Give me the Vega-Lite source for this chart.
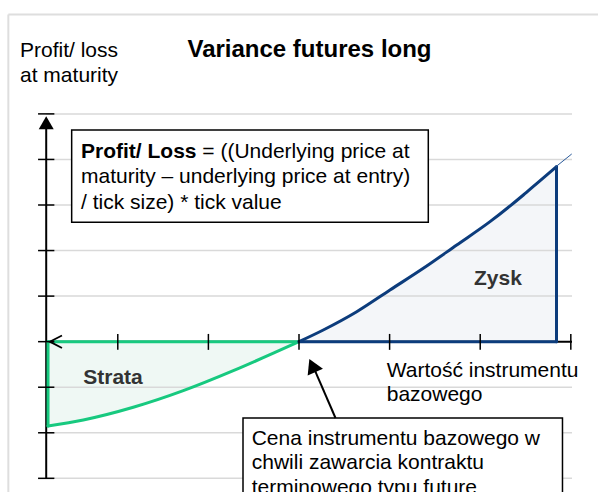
{
  "$schema": "https://vega.github.io/schema/vega-lite/v6.json",
  "width": 598,
  "height": 492,
  "padding": 0,
  "autosize": {"type": "none"},
  "background": "white",
  "config": {"view": {"stroke": null}, "text": {"font": "Liberation Sans"}},
  "datasets": {
    "border": [
      {"u": -3.208, "v": 7.18, "u2": 3.4, "v2": 7.18},
      {"u": -3.208, "v": 7.18, "u2": -3.208, "v2": -3.4}
    ],
    "grid": [
      {"u": -2.79, "u2": 3.013, "v": 5, "v2": 5},
      {"u": -2.79, "u2": 3.013, "v": 4, "v2": 4},
      {"u": -2.79, "u2": 3.013, "v": 3, "v2": 3},
      {"u": -2.79, "u2": 3.013, "v": 2, "v2": 2},
      {"u": -2.79, "u2": 3.013, "v": 1, "v2": 1},
      {"u": -2.79, "u2": 3.013, "v": -1, "v2": -1},
      {"u": -2.79, "u2": 3.013, "v": -2, "v2": -2},
      {"u": -2.79, "u2": 3.013, "v": -3, "v2": -3}
    ],
    "axes": [
      {"u": -2.79, "v": -3, "u2": -2.79, "v2": 4.85},
      {"u": -2.79, "v": 0, "u2": 3.013, "v2": 0}
    ],
    "ticks": [
      {"u": -2.88, "u2": -2.7, "v": 5, "v2": 5},
      {"u": -2.88, "u2": -2.7, "v": 4, "v2": 4},
      {"u": -2.88, "u2": -2.7, "v": 3, "v2": 3},
      {"u": -2.88, "u2": -2.7, "v": 2, "v2": 2},
      {"u": -2.88, "u2": -2.7, "v": 1, "v2": 1},
      {"u": -2.88, "u2": -2.7, "v": 0, "v2": 0},
      {"u": -2.88, "u2": -2.7, "v": -1, "v2": -1},
      {"u": -2.88, "u2": -2.7, "v": -2, "v2": -2},
      {"u": -2.88, "u2": -2.7, "v": -3, "v2": -3},
      {"u": -2, "u2": -2, "v": 0.17, "v2": -0.18},
      {"u": -1, "u2": -1, "v": 0.17, "v2": -0.18},
      {"u": 0, "u2": 0, "v": 0.17, "v2": -0.18},
      {"u": 1, "u2": 1, "v": 0.17, "v2": -0.18},
      {"u": 2, "u2": 2, "v": 0.17, "v2": -0.18},
      {"u": 3, "u2": 3, "v": 0.17, "v2": -0.18}
    ],
    "chevron": [
      {"o": 0, "u": -2.616, "v": 0.135},
      {"o": 1, "u": -2.75, "v": 0},
      {"o": 2, "u": -2.616, "v": -0.14}
    ],
    "lossCurve": [
      {"u": -2.77, "v": -1.851},
      {"u": -2.381, "v": -1.72},
      {"u": -1.829, "v": -1.441},
      {"u": -1.277, "v": -1.076},
      {"u": -0.725, "v": -0.637},
      {"u": -0.246, "v": -0.22},
      {"u": 0, "v": 0}
    ],
    "lossEdges": [
      {"u": 0, "v": 0, "u2": -2.77, "v2": 0},
      {"u": -2.77, "v": 0, "u2": -2.77, "v2": -1.851}
    ],
    "profitCurve": [
      {"u": 0, "v": 0},
      {"u": 0.268, "v": 0.256},
      {"u": 0.637, "v": 0.657},
      {"u": 1.004, "v": 1.134},
      {"u": 1.372, "v": 1.61},
      {"u": 1.741, "v": 2.122},
      {"u": 2.108, "v": 2.634},
      {"u": 2.476, "v": 3.22},
      {"u": 2.623, "v": 3.47},
      {"u": 2.842, "v": 3.84}
    ],
    "profitEdges": [
      {"u": 2.842, "v": 3.84, "u2": 2.842, "v2": 0},
      {"u": 2.842, "v": 0, "u2": 0, "v2": 0}
    ],
    "extension": [
      {"u": 2.835, "v": 3.84, "u2": 3.01, "v2": 4.12}
    ],
    "boxes": [
      {"u": -2.509, "u2": 1.427, "v": 4.646, "v2": 2.62},
      {"u": -0.618, "u2": 2.908, "v": -1.676, "v2": -3.6}
    ],
    "shaft": [
      {"u": 0.403, "v": -1.676, "u2": 0.168, "v2": -0.596}
    ],
    "head": [{"u": 0.147, "v": -0.523}],
    "axisHead": [{"u": -2.79, "v": 4.807}],
    "title": [{"u": -1.231, "v": 6.249, "text": "Variance futures long"}],
    "plain": [
      {"u": -3.079, "v": 6.249, "text": "Profit/ loss"},
      {"u": -3.079, "v": 5.7, "text": "at maturity"},
      {"u": -1.067, "v": 4.032, "text": "= ((Underlying price at"},
      {"u": -2.406, "v": 3.472, "text": "maturity – underlying price at entry)"},
      {"u": -2.406, "v": 2.923, "text": "/ tick size) * tick value"},
      {"u": 0.968, "v": -0.765, "text": "Wartość instrumentu"},
      {"u": 0.968, "v": -1.302, "text": "bazowego"},
      {"u": -0.522, "v": -2.268, "text": "Cena instrumentu bazowego w"},
      {"u": -0.522, "v": -2.806, "text": "chwili zawarcia kontraktu"},
      {"u": -0.522, "v": -3.344, "text": "terminowego typu future"}
    ],
    "boldLeft": [{"u": -2.406, "v": 4.032, "text": "Profit/ Loss"}],
    "areaLabels": [
      {"u": 2.196, "v": 1.244, "text": "Zysk"},
      {"u": -2.053, "v": -0.936, "text": "Strata"}
    ]
  },
  "encoding": {
    "x": {"field": "u", "type": "quantitative", "scale": {"domain": [-3.3, 3.3], "nice": false, "zero": false}, "axis": null},
    "y": {"field": "v", "type": "quantitative", "scale": {"domain": [-3.3, 7.5], "nice": false, "zero": false}, "axis": null}
  },
  "layer": [
    {"data": {"name": "border"}, "mark": {"type": "rule", "stroke": "#dedede", "strokeWidth": 2},
     "encoding": {"x2": {"field": "u2"}, "y2": {"field": "v2"}}},
    {"data": {"name": "lossCurve"}, "mark": {"type": "area", "fill": "#eff8f4", "opacity": 1, "interpolate": "monotone"},
     "encoding": {"y2": {"datum": 0}}},
    {"data": {"name": "profitCurve"}, "mark": {"type": "area", "fill": "#f4f6f9", "opacity": 1, "interpolate": "monotone"},
     "encoding": {"y2": {"datum": 0}}},
    {"data": {"name": "grid"}, "mark": {"type": "rule", "stroke": "#d9d9d9", "strokeWidth": 1.5},
     "encoding": {"x2": {"field": "u2"}, "y2": {"field": "v2"}}},
    {"data": {"name": "axes"}, "mark": {"type": "rule", "stroke": "#000000", "strokeWidth": 2},
     "encoding": {"x2": {"field": "u2"}, "y2": {"field": "v2"}}},
    {"data": {"name": "lossEdges"}, "mark": {"type": "rule", "stroke": "#17c97f", "strokeWidth": 3, "strokeCap": "round"},
     "encoding": {"x2": {"field": "u2"}, "y2": {"field": "v2"}}},
    {"data": {"name": "lossCurve"}, "mark": {"type": "line", "stroke": "#17c97f", "strokeWidth": 3, "strokeCap": "round", "interpolate": "monotone"},
     "encoding": {}},
    {"data": {"name": "profitEdges"}, "mark": {"type": "rule", "stroke": "#0c3c7c", "strokeWidth": 3, "strokeCap": "round"},
     "encoding": {"x2": {"field": "u2"}, "y2": {"field": "v2"}}},
    {"data": {"name": "profitCurve"}, "mark": {"type": "line", "stroke": "#0c3c7c", "strokeWidth": 3, "strokeCap": "round", "strokeJoin": "round", "interpolate": "monotone"},
     "encoding": {}},
    {"data": {"name": "extension"}, "mark": {"type": "rule", "stroke": "#2a5a9a", "strokeWidth": 1},
     "encoding": {"x2": {"field": "u2"}, "y2": {"field": "v2"}}},
    {"data": {"name": "ticks"}, "mark": {"type": "rule", "stroke": "#000000", "strokeWidth": 1.5},
     "encoding": {"x2": {"field": "u2"}, "y2": {"field": "v2"}}},
    {"data": {"name": "chevron"}, "mark": {"type": "line", "stroke": "#000000", "strokeWidth": 1.8},
     "encoding": {"order": {"field": "o", "type": "quantitative"}}},
    {"data": {"name": "axisHead"}, "mark": {"type": "point", "shape": "triangle-up", "size": 225, "filled": true, "fill": "#000000", "opacity": 1},
     "encoding": {}},
    {"data": {"name": "boxes"}, "mark": {"type": "rect", "fill": "#ffffff", "stroke": "#000000", "strokeWidth": 1.5, "clip": true},
     "encoding": {"x2": {"field": "u2"}, "y2": {"field": "v2"}}},
    {"data": {"name": "shaft"}, "mark": {"type": "rule", "stroke": "#000000", "strokeWidth": 2},
     "encoding": {"x2": {"field": "u2"}, "y2": {"field": "v2"}}},
    {"data": {"name": "head"}, "mark": {"type": "point", "shape": "triangle-up", "size": 280, "angle": -24.3, "filled": true, "fill": "#000000", "opacity": 1},
     "encoding": {}},
    {"data": {"name": "title"}, "mark": {"type": "text", "align": "left", "baseline": "alphabetic", "fontSize": 24, "fontWeight": "bold", "font": "Liberation Sans", "color": "#000000"},
     "encoding": {"text": {"field": "text"}}},
    {"data": {"name": "plain"}, "mark": {"type": "text", "align": "left", "baseline": "alphabetic", "fontSize": 21, "font": "Liberation Sans", "color": "#000000", "clip": true},
     "encoding": {"text": {"field": "text"}}},
    {"data": {"name": "boldLeft"}, "mark": {"type": "text", "align": "left", "baseline": "alphabetic", "fontSize": 21, "fontWeight": "bold", "font": "Liberation Sans", "color": "#000000"},
     "encoding": {"text": {"field": "text"}}},
    {"data": {"name": "areaLabels"}, "mark": {"type": "text", "align": "center", "baseline": "alphabetic", "fontSize": 21, "fontWeight": "bold", "font": "Liberation Sans", "color": "#333333"},
     "encoding": {"text": {"field": "text"}}}
  ]
}
